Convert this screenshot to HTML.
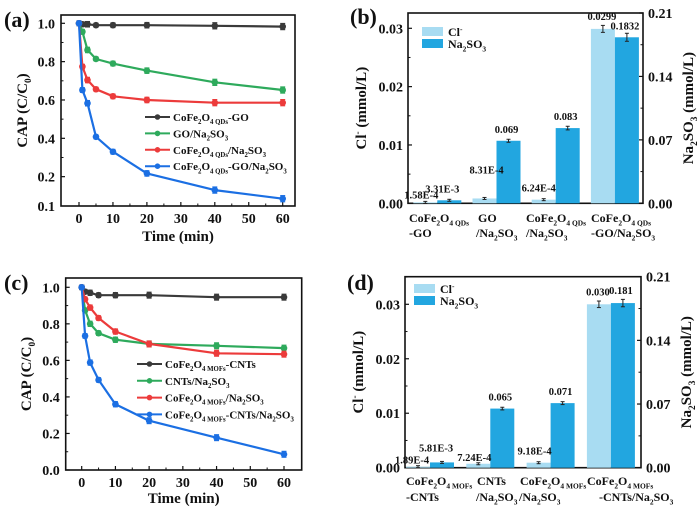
<!DOCTYPE html>
<html><head><meta charset="utf-8">
<style>
html,body{margin:0;padding:0;background:#fff;}
svg{display:block;font-family:"Liberation Serif",serif;font-weight:bold;}
</style></head>
<body>
<svg id="fig" width="700" height="511" viewBox="0 0 700 511" xmlns="http://www.w3.org/2000/svg"></svg>
<script>
// ---------- Panel (a) data ----------
const timesA = [0, 1, 2.5, 5, 10, 20, 40, 60];
const a_black = [1.0, 0.995, 0.995, 0.99, 0.99, 0.99, 0.987, 0.983];
const a_green = [1.0, 0.956, 0.861, 0.814, 0.79, 0.753, 0.692, 0.652];
const a_red   = [1.0, 0.774, 0.704, 0.656, 0.619, 0.6, 0.586, 0.586];
const a_blue  = [1.0, 0.652, 0.583, 0.408, 0.33, 0.217, 0.13, 0.085];
const a_err   = [0.012, 0.012, 0.014, 0.01, 0.012, 0.014, 0.016, 0.016];
const a_yticks = [0.2, 0.4, 0.6, 0.8, 1.0];
const a_ylabels = ["0.2", "0.4", "0.6", "0.8", "1.0"];
const a_xticks = [0, 10, 20, 30, 40, 50, 60];
// ---------- Panel (c) data ----------
const timesC = [0, 1, 2.5, 5, 10, 20, 40, 60];
const c_black = [1.0, 0.976, 0.97, 0.957, 0.957, 0.957, 0.946, 0.946];
const c_green = [1.0, 0.874, 0.80, 0.749, 0.713, 0.69, 0.68, 0.667];
const c_red   = [1.0, 0.935, 0.889, 0.832, 0.758, 0.69, 0.639, 0.634];
const c_blue  = [1.0, 0.734, 0.588, 0.493, 0.36, 0.27, 0.177, 0.086];
const c_err   = [0.012, 0.012, 0.014, 0.012, 0.014, 0.016, 0.016, 0.016];
const c_yticks = [0.0, 0.2, 0.4, 0.6, 0.8, 1.0];
const c_ylabels = ["0.0", "0.2", "0.4", "0.6", "0.8", "1.0"];
// ---------- Panel (b) data ----------
const b_cl = [1.58e-4, 8.31e-4, 6.24e-4, 0.0299];
const b_na = [3.31e-3, 0.069, 0.083, 0.1832];
const b_cl_text = ["1.58E-4", "8.31E-4", "6.24E-4", "0.0299"];
const b_na_text = ["3.31E-3", "0.069", "0.083", "0.1832"];
const b_leftTicks = [0, 0.01, 0.02, 0.03];
const b_leftLabels = ["0.00", "0.01", "0.02", "0.03"];
const b_rightTicks = [0, 0.07, 0.14, 0.21];
const b_rightLabels = ["0.00", "0.07", "0.14", "0.21"];
// ---------- Panel (d) data ----------
const d_cl = [1.89e-4, 7.24e-4, 9.18e-4, 0.030];
const d_na = [5.81e-3, 0.065, 0.071, 0.181];
const d_cl_text = ["1.89E-4", "7.24E-4", "9.18E-4", "0.030"];
const d_na_text = ["5.81E-3", "0.065", "0.071", "0.181"];

const NS = "http://www.w3.org/2000/svg";
const svg = document.getElementById("fig");
function el(tag, attrs, parent) {
  const e = document.createElementNS(NS, tag);
  for (const k in attrs) e.setAttribute(k, attrs[k]);
  (parent || svg).appendChild(e);
  return e;
}
function rich(parent, x, y, str, size, anchor, extra) {
  const t = el("text", Object.assign({x: x, y: y, "font-size": size, "text-anchor": anchor || "start", fill: "#111"}, extra || {}), parent);
  const re = /(_\{[^}]*\}|\^\{[^}]*\})/;
  const parts = str.split(re);
  let shift = 0;
  parts.forEach(p => {
    if (!p) return;
    const ts = document.createElementNS(NS, "tspan");
    let target = 0, txt = p, fs = size;
    if (p.startsWith("_{")) { target = size * 0.28; txt = p.slice(2, -1); fs = size * 0.62; }
    else if (p.startsWith("^{")) { target = -size * 0.38; txt = p.slice(2, -1); fs = size * 0.62; }
    ts.setAttribute("dy", target - shift);
    ts.setAttribute("font-size", fs);
    ts.textContent = txt;
    shift = target;
    t.appendChild(ts);
  });
  return t;
}

const COL = {black: "#3a3a3a", green: "#2eaa5c", red: "#ec3b3b", blue: "#1b6fe3"};

function linePanel(g, cfg) {
  const X = v => cfg.x0 + (cfg.x60 - cfg.x0) * v / 60;
  const Y = v => cfg.yTop - (v - cfg.vTop) * cfg.ppu;
  const fr = el("rect", {x: cfg.L, y: cfg.T, width: cfg.R - cfg.L, height: cfg.B - cfg.T, fill: "none", stroke: "#111", "stroke-width": 1.6}, g);
  
  
  cfg.yticks.forEach((v, i) => {
    const y = Y(v);
    el("line", {x1: cfg.L, x2: cfg.L + 4, y1: y, y2: y, stroke: "#111", "stroke-width": 1.2}, g);
    const t = el("text", {x: cfg.L - 6, y: y + 5, "font-size": 14, "text-anchor": "end", fill: "#111"}, g);
    t.textContent = cfg.ylabels[i];
    
    
    const ym = Y(v + 0.1);
    if (ym > cfg.T + 2) el("line", {x1: cfg.L, x2: cfg.L + 2.5, y1: ym, y2: ym, stroke: "#111", "stroke-width": 1}, g);
  });
  a_xticks.forEach(v => {
    const x = X(v);
    el("line", {x1: x, x2: x, y1: cfg.B, y2: cfg.B - 4, stroke: "#111", "stroke-width": 1.2}, g);
    const t = el("text", {x: x, y: cfg.B + 17, "font-size": 14, "text-anchor": "middle", fill: "#111"}, g);
    t.textContent = String(v);
    
    
    if (v < 60) el("line", {x1: X(v + 5), x2: X(v + 5), y1: cfg.B, y2: cfg.B - 2.5, stroke: "#111", "stroke-width": 1}, g);
  });
  cfg.series.forEach(s => {
    const pts = cfg.times.map((tm, i) => X(tm).toFixed(1) + "," + Y(s.vals[i]).toFixed(1)).join(" ");
    const pl = el("polyline", {points: pts, fill: "none", stroke: s.color, "stroke-width": 2.2, "stroke-linejoin": "round"}, g);
    
    
    cfg.times.forEach((tm, i) => {
      const x = X(tm), y = Y(s.vals[i]), e = cfg.err[i] * cfg.ppu;
      el("line", {x1: x, x2: x, y1: y - e, y2: y + e, stroke: s.color, "stroke-width": 1.2}, g);
      el("line", {x1: x - 2.5, x2: x + 2.5, y1: y - e, y2: y - e, stroke: s.color, "stroke-width": 1.2}, g);
      el("line", {x1: x - 2.5, x2: x + 2.5, y1: y + e, y2: y + e, stroke: s.color, "stroke-width": 1.2}, g);
      const c = el("circle", {cx: x, cy: y, r: 3.3, fill: s.color}, g);
      
      
    });
  });
  cfg.series.forEach((s, i) => {
    const y = cfg.legY + i * cfg.legDy;
    const lg = el("g", {}, g);
    
    
    el("line", {x1: cfg.legX, x2: cfg.legX + 25, y1: y, y2: y, stroke: s.color, "stroke-width": 2}, lg);
    el("circle", {cx: cfg.legX + 12.5, cy: y, r: 2.8, fill: s.color}, lg);
    rich(lg, cfg.legX + 28, y + 4, s.label, 11, "start");
  });
  const xt = el("text", {x: (cfg.L + cfg.R) / 2, y: cfg.B + cfg.xTitleDy, "font-size": 15, "text-anchor": "middle", fill: "#111"}, g);
  xt.textContent = "Time (min)";
  
  
  const yt = rich(g, 0, 0, "CAP (C/C_{0})", 15, "middle", {transform: `translate(${cfg.yTitleX},${(cfg.T + cfg.B) / 2}) rotate(-90)`});
  
  
  const pl = el("text", {x: 4, y: cfg.T + 12, "font-size": 22, fill: "#111"}, g);
  pl.textContent = cfg.tag;
  
  
}

function barPanel(g, cfg) {
  const YL = v => cfg.B - v / cfg.leftMax * (cfg.B - cfg.T);
  const YR = v => cfg.B - v / 0.21 * (cfg.B - cfg.T);
  const fr = el("rect", {x: cfg.L, y: cfg.T, width: cfg.R - cfg.L, height: cfg.B - cfg.T, fill: "none", stroke: "#111", "stroke-width": 1.6}, g);
  
  
  b_leftTicks.forEach((v, i) => {
    const y = YL(v);
    el("line", {x1: cfg.L, x2: cfg.L + 4, y1: y, y2: y, stroke: "#111", "stroke-width": 1.2}, g);
    el("line", {x1: cfg.L, x2: cfg.L + 2.5, y1: YL(v + 0.005), y2: YL(v + 0.005), stroke: "#111", "stroke-width": 1}, g);
    const t = el("text", {x: cfg.L - 5, y: y + 5, "font-size": 14, "text-anchor": "end", fill: "#111"}, g);
    t.textContent = b_leftLabels[i];
    
    
  });
  b_rightTicks.forEach((v, i) => {
    const y = YR(v);
    el("line", {x1: cfg.R, x2: cfg.R - 4, y1: y, y2: y, stroke: "#111", "stroke-width": 1.2}, g);
    if (v < 0.21) el("line", {x1: cfg.R, x2: cfg.R - 2.5, y1: YR(v + 0.035), y2: YR(v + 0.035), stroke: "#111", "stroke-width": 1}, g);
    const t = el("text", {x: cfg.R + 5, y: y + 5, "font-size": 14, "text-anchor": "start", fill: "#111"}, g);
    t.textContent = b_rightLabels[i];
    
    
  });
  const bw = 24;
  cfg.cl.forEach((v, i) => {
    const cx = cfg.c0 + i * cfg.dc;
    const y1 = YL(v), y2 = YR(cfg.na[i]);
    const r1 = el("rect", {x: cx - bw, y: y1, width: bw, height: cfg.B - y1, fill: "#a8dcf2"}, g);
    
    
    const r2 = el("rect", {x: cx, y: y2, width: bw, height: cfg.B - y2, fill: "#22a6e0"}, g);
    
    
    [[cx - bw / 2, y1, v * 0.02], [cx + bw / 2, y2, cfg.na[i] * 0.025]].forEach(([x, y, e]) => {
      const ep = Math.max(e / cfg.leftMax * (cfg.B - cfg.T) * (e < 0.001 ? 1 : 0.15), 1);
      el("line", {x1: x, x2: x, y1: y - ep, y2: y + ep, stroke: "#222", "stroke-width": 1}, g);
      el("line", {x1: x - 2, x2: x + 2, y1: y - ep, y2: y - ep, stroke: "#222", "stroke-width": 1}, g);
      el("line", {x1: x - 2, x2: x + 2, y1: y + ep, y2: y + ep, stroke: "#222", "stroke-width": 1}, g);
    });
    const t1 = el("text", {x: cx - bw / 2 + cfg.clOff[i][0], y: y1 - 6 + cfg.clOff[i][1], "font-size": 10.5, "text-anchor": "middle", fill: "#111"}, g);
    t1.textContent = cfg.clText[i];
    
    
    const t2 = el("text", {x: cx + bw / 2 + cfg.naOff[i][0], y: y2 - 6 + cfg.naOff[i][1], "font-size": 10.5, "text-anchor": "middle", fill: "#111"}, g);
    t2.textContent = cfg.naText[i];
    
    
  });
  cfg.cats.forEach(c => {
    const ct = rich(g, c[0], c[1], c[2], 12, "start");
    
    
  });
  const lg1 = el("g", {}, g);
  
  
  el("rect", {x: cfg.legX, y: cfg.legY, width: 21, height: 9, fill: "#a8dcf2"}, lg1);
  rich(lg1, cfg.legX + 26, cfg.legY + 9, "Cl^{-}", 12, "start");
  const lg2 = el("g", {}, g);
  
  
  el("rect", {x: cfg.legX, y: cfg.legY + 12, width: 21, height: 9, fill: "#22a6e0"}, lg2);
  rich(lg2, cfg.legX + 26, cfg.legY + 21, "Na_{2}SO_{3}", 12, "start");
  const ylt = rich(g, 0, 0, "Cl^{-} (mmol/L)", 15, "middle", {transform: `translate(${cfg.L - 42},${(cfg.T + cfg.B) / 2}) rotate(-90)`});
  
  
  const yrt = rich(g, 0, 0, "Na_{2}SO_{3} (mmol/L)", 15, "middle", {transform: `translate(${cfg.R + 50},${(cfg.T + cfg.B) / 2}) rotate(-90)`});
  
  
  const pl = el("text", {x: cfg.L - 58, y: cfg.tagY, "font-size": 22, fill: "#111"}, g);
  pl.textContent = cfg.tag;
  
  
}

const gA = el("g", {});


linePanel(gA, {L: 61, R: 295, T: 15, B: 206, x0: 79, x60: 282.7, yTop: 23.3, vTop: 1.0, ppu: 191.7,
  yticks: a_yticks, ylabels: a_ylabels, times: timesA, err: a_err, tag: "(a)", yTitleX: 27, xTitleDy: 35,
  legX: 145, legY: 117, legDy: 16.4,
  series: [
    {name: "cofe2o4-qds-go", vals: a_black, color: COL.black, label: "CoFe_{2}O_{4 QDs}-GO"},
    {name: "go-na2so3", vals: a_green, color: COL.green, label: "GO/Na_{2}SO_{3}"},
    {name: "cofe2o4-qds-na2so3", vals: a_red, color: COL.red, label: "CoFe_{2}O_{4 QDs}/Na_{2}SO_{3}"},
    {name: "cofe2o4-qds-go-na2so3", vals: a_blue, color: COL.blue, label: "CoFe_{2}O_{4 QDs}-GO/Na_{2}SO_{3}"}
  ]});
const l01 = el("text", {x: 55, y: 211, "font-size": 14, "text-anchor": "end", fill: "#111"}, gA);
l01.textContent = "0.1";



const gC = el("g", {});


linePanel(gC, {L: 65.7, R: 301.7, T: 278, B: 470, x0: 81.7, x60: 284, yTop: 287.3, vTop: 1.0, ppu: 182.7,
  yticks: c_yticks, ylabels: c_ylabels, times: timesC, err: c_err, tag: "(c)", yTitleX: 31, xTitleDy: 33,
  legX: 137, legY: 364, legDy: 16.8,
  series: [
    {name: "cofe2o4-mofs-cnts", vals: c_black, color: COL.black, label: "CoFe_{2}O_{4 MOFs}-CNTs"},
    {name: "cnts-na2so3", vals: c_green, color: COL.green, label: "CNTs/Na_{2}SO_{3}"},
    {name: "cofe2o4-mofs-na2so3", vals: c_red, color: COL.red, label: "CoFe_{2}O_{4 MOFs}/Na_{2}SO_{3}"},
    {name: "cofe2o4-mofs-cnts-na2so3", vals: c_blue, color: COL.blue, label: "CoFe_{2}O_{4 MOFs}-CNTs/Na_{2}SO_{3}"}
  ]});

const gB = el("g", {});


barPanel(gB, {L: 408, R: 643, T: 13, B: 203.3, leftMax: 0.03 * (190.3 / 175), c0: 437.3, dc: 59.2,
  cl: b_cl, na: b_na, clText: b_cl_text, naText: b_na_text, tag: "(b)", tagY: 24,
  clOff: [[-4, 2], [2, -19], [-5, -2], [-1, -3]], naOff: [[-7, -2], [-2, -2], [-2, -2], [-2, -2]],
  legX: 422, legY: 27,
  cats: [[409, 222, "CoFe_{2}O_{4 QDs}"], [409, 237, "-GO"], [478, 222, "GO"], [476, 237, "/Na_{2}SO_{3}"],
         [526, 222, "CoFe_{2}O_{4 QDs}"], [526, 237, "/Na_{2}SO_{3}"], [591, 222, "CoFe_{2}O_{4 QDs}"], [591, 237, "-GO/Na_{2}SO_{3}"]]});

const gD = el("g", {});


barPanel(gD, {L: 405, R: 641, T: 276.7, B: 467.7, leftMax: 0.03 * (191 / 163.4), c0: 430, dc: 60.3,
  cl: d_cl, na: d_na, clText: d_cl_text, naText: d_na_text, tag: "(d)", tagY: 290,
  clOff: [[-6, 3], [-4, 3], [-4, -2], [-1, -3]], naOff: [[-6, -5], [-2, -2], [-2, -2], [-2, -3]],
  legX: 414, legY: 284,
  cats: [[406, 485, "CoFe_{2}O_{4 MOFs}"], [406, 501, "-CNTs"], [477, 485, "CNTs"], [476, 501, "/Na_{2}SO_{3}"],
         [520, 485, "CoFe_{2}O_{4 MOFs}"], [519, 501, "/Na_{2}SO_{3}"], [587, 485, "CoFe_{2}O_{4 MOFs}"], [599, 501, "-CNTs/Na_{2}SO_{3}"]]});
</script>
</body></html>
